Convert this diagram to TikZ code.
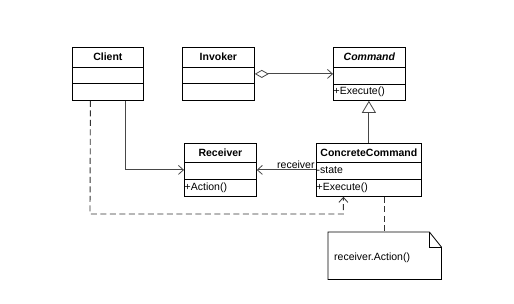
\documentclass[tikz,border=0pt]{standalone}
\usepackage{fontspec}
\setmainfont{Liberation Sans}
\usetikzlibrary{arrows.meta,calc}
\begin{document}
\begin{tikzpicture}[x=1pt,y=-1pt,
  classbox/.style={draw=black,line width=0.8pt,minimum width=#1,minimum height=53pt,anchor=north west,inner sep=0pt},
  divider/.style={draw=black,line width=0.8pt},
  conn/.style={draw=black!72,line width=0.9pt},
  dep/.style={conn,draw=black!80,dash pattern=on 6pt off 3.5pt},
  title/.style={font=\fontsize{10.5}{12}\selectfont\bfseries,inner sep=0pt},
  member/.style={font=\fontsize{10.5}{12}\selectfont,inner sep=0pt,anchor=west},
  barb/.tip={Straight Barb[length=5pt,width=9pt,line width=0.8pt]}
]
\useasboundingbox[fill=white] (0,0) rectangle (514,303);

% classes
\node[classbox=71pt] (client) at (72,47) {};
\node[classbox=72pt] (invoker) at (182,47) {};
\node[classbox=72pt] (command) at (333,47) {};
\node[classbox=72pt] (receiver) at (184,143) {};
\node[classbox=105pt] (concrete) at (316,143) {};

% dividers
\foreach \n/\a/\b in {client/20/36,invoker/20/36,command/20/37,receiver/19/36,concrete/19/36}{
  \draw[divider] ($(\n.north west)+(0,\a)$) -- ($(\n.north east)+(0,\a)$);
  \draw[divider] ($(\n.north west)+(0,\b)$) -- ($(\n.north east)+(0,\b)$);
}

% titles
\node[title] (tclient) at ($(client.north)+(0,10)$) {Client};
\node[title] (tinvoker) at ($(invoker.north)+(0,10)$) {Invoker};
\node[title] (tcommand) at ($(command.north)+(0,10)$) {\itshape Command};
\node[title] (treceiver) at ($(receiver.north)+(0,9.5)$) {Receiver};
\node[title] (tconcrete) at ($(concrete.north)+(0,9.5)$) {ConcreteCommand};

% members
\node[member] (mcmdexec) at ($(command.north west)+(0.5,45)$) {+Execute()};
\node[member] (mrecact) at ($(receiver.north west)+(0.5,44.5)$) {+Action()};
\node[member] (mstate) at ($(concrete.north west)+(0.5,27.5)$) {-state};
\node[member] (mccexec) at ($(concrete.north west)+(0.5,44.5)$) {+Execute()};

% note
\node[minimum width=113pt,minimum height=47pt,anchor=north west,inner sep=0pt] (note) at (328,232) {};
\draw[black,line width=0.8pt] (note.north west) -- ($(note.north east)+(-12,0)$) -- ($(note.north east)+(0,15)$) -- (note.south east) -- (note.south west) -- cycle;
\draw[black,line width=0.8pt] ($(note.north east)+(-12,0)$) -- ($(note.north east)+(-12,15)$) -- ($(note.north east)+(0,15)$);
\node[member] (notetext) at ($(note.west)+(6,2)$) {receiver.Action()};

% connectors
\draw[conn,{Diamond[open,length=14pt,width=8pt,line width=0.8pt]}-barb] (invoker.east) -- (command.west);
\draw[conn,-{Triangle[open,length=12pt,width=14pt,line width=0.8pt]}] (concrete.north) -- (concrete.north |- command.south);
\draw[conn,-barb] ([xshift=18pt]client.south) |- (receiver.west);
\draw[conn,-barb] (concrete.west) -- (receiver.east)
  node[pos=0,anchor=south east,inner sep=0pt,yshift=1pt,xshift=-1pt,font=\fontsize{10.5}{12}\selectfont] (lreceiver) {receiver};
\coordinate (dcorner) at (90,214);
\draw[dep,-barb] ([xshift=-17.5pt]client.south) -- (dcorner) -| ([xshift=-25.5pt]concrete.south);
\draw[dep] (note.north |- concrete.south) -- (note.north);
\end{tikzpicture}
\end{document}
